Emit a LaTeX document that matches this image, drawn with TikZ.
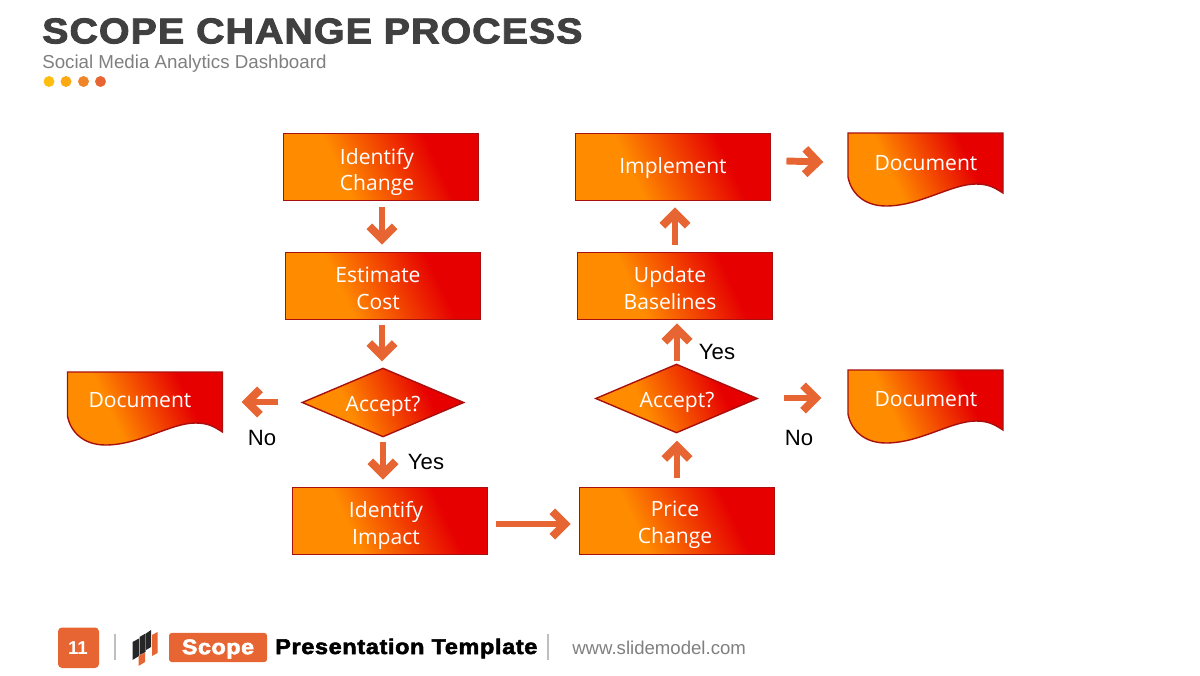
\documentclass[tikz,border=0pt]{standalone}
\usepackage{fontspec}
\usetikzlibrary{shapes.geometric,arrows.meta}
\setmainfont{Liberation Sans}
\newfontfamily\bodyfont{Open Sans}
\newfontfamily\heavyfont[FakeBold=2.6,FakeStretch=1.1,LetterSpace=3]{Liberation Sans Bold}
\definecolor{orng}{HTML}{FF8C00}
\definecolor{redd}{HTML}{E60000}
\definecolor{edge}{HTML}{A81010}
\definecolor{flowc}{HTML}{E66532}
\definecolor{titlec}{HTML}{404040}
\definecolor{subc}{HTML}{7F7F7F}
\definecolor{dotA}{HTML}{FDBE0F}
\definecolor{dotB}{HTML}{FDA914}
\definecolor{dotC}{HTML}{F08429}
\definecolor{dotD}{HTML}{E66532}
\pgfdeclarehorizontalshading{flowgrad}{100bp}{color(0bp)=(orng); color(37bp)=(orng); color(67bp)=(redd); color(100bp)=(redd)}
\tikzset{
  x=0.75pt,y=-0.75pt,
  fillgrad/.style={shade,shading=flowgrad,shading angle=25,draw=edge,line width=1.05pt},
  box/.style={fillgrad,rectangle,inner sep=0pt,minimum width=146.6pt,minimum height=50.6pt},
  decision/.style={fillgrad,diamond,inner sep=0pt,aspect=2.35,minimum width=121.5pt,minimum height=51.7pt},
  flowtext/.style={font=\bodyfont\fontsize{15.8}{20.2}\selectfont,text=white,align=center,inner sep=0pt},
  answer/.style={font=\fontsize{16.6}{18}\selectfont,text=black,inner sep=0pt},
  flow/.style={draw=flowc,line width=5.2pt,-{Straight Barb[length=9.5pt,width=19pt,line width=6pt]}},
  dot/.style={circle,inner sep=0pt,minimum size=8.2pt},
  sepline/.style={draw=black!25,line width=1pt}
}
\newcommand{\docshape}[2]{%
  \path[fillgrad,shift={(#1,#2)}] (0,0) -- (155,0) -- (155,60)
    .. controls (147,55) and (141,51) .. (128,51)
    .. controls (103,51) and (72,73) .. (38,73)
    .. controls (16,73) and (3,60) .. (0,44) -- cycle;}
\begin{document}
\begin{tikzpicture}
\useasboundingbox (0,0) rectangle (1200,675);
% header
\node[anchor=west,inner sep=0pt,text=titlec] (title) at (42,31) {\heavyfont\fontsize{26.8}{30}\selectfont SCOPE CHANGE PROCESS};
\node[anchor=west,inner sep=0pt,text=subc] (sub) at (42,63.5) {\fontsize{14.05}{16}\selectfont Social Media Analytics Dashboard};
\node[dot,fill=dotA] (d-a) at (49,81.5) {};
\node[dot,fill=dotB] (d-b) at (66,81.5) {};
\node[dot,fill=dotC] (d-c) at (83.5,81.5) {};
\node[dot,fill=dotD] (d-d) at (100.5,81.5) {};
% boxes
\node[box] (n1) at (381,167) {};
\node[box] (n2) at (383,286) {};
\node[box] (n3) at (390,521) {};
\node[box] (n4) at (677,521) {};
\node[box] (n5) at (675,286) {};
\node[box] (n6) at (673,167) {};
\node[decision] (dl) at (383,402.5) {};
\node[decision] (dr) at (676.5,398.5) {};
\docshape{848}{133}
\docshape{848}{370}
\docshape{67.5}{372}
% texts
\node[flowtext] (t1) at (377,172) {Identify\\Change};
\node[flowtext] (t2) at (378,288) {Estimate\\Cost};
\node[flowtext] (t3) at (386,525) {Identify\\Impact};
\node[flowtext] (t4) at (675,525) {Price\\Change};
\node[flowtext] (t5) at (670,288) {Update\\Baselines};
\node[flowtext] (t6) at (673,168) {Implement};
\node[flowtext] (tl) at (383,406) {Accept?};
\node[flowtext] (tr) at (677,402) {Accept?};
\node[flowtext] (d1) at (926,163) {Document};
\node[flowtext] (d2) at (926,399) {Document};
\node[flowtext] (d3) at (140,400) {Document};
% connectors
\draw[flow] ([shift={(1,6)}]n1.south) -- ([shift={(-1,-7)}]n2.north);
\draw[flow] ([shift={(-1,5)}]n2.south) -- ([shift={(-1,-6)}]dl.north);
\draw[flow] ([shift={(0,4)}]dl.south) -- ([shift={(-7,-7)}]n3.north);
\draw[flow] ([shift={(8,3)}]n3.east) -- ([shift={(-8,3)}]n4.west);
\draw[flow] ([shift={(0,-9)}]n4.north) -- ([shift={(0.5,7)}]dr.south);
\draw[flow] ([shift={(0.5,-2)}]dr.north) -- ([shift={(2,3)}]n5.south);
\draw[flow] ([shift={(0,-7)}]n5.north) -- ([shift={(2,6)}]n6.south);
\draw[flow] ([shift={(15,-6)}]n6.east) -- ([shift={(-51,-1)}]d1.west);
\draw[flow] ([shift={(26,-0.5)}]dr.east) -- ([shift={(-53,-1)}]d2.west);
\draw[flow] ([shift={(-23,-0.5)}]dl.west) -- ([shift={(50,2)}]d3.east);
% answers
\node[answer] (y1) at (426,462) {Yes};
\node[answer] (y2) at (717,352) {Yes};
\node[answer] (no1) at (262,438) {No};
\node[answer] (no2) at (799,438) {No};
% footer
\path[fill=flowc,rounded corners=3pt] (58,627.5) -- (99,627.5) -- (99,668) -- (58,668) -- cycle;
\node[inner sep=0pt,text=white] (pg) at (78,648) {\fontsize{14}{16}\selectfont\bfseries 11};
\draw[sepline] (115,634) -- (115,660);
\fill[black!85] (132.5,642) -- (139,638.5) -- (139,656) -- (132.5,660) -- cycle;
\fill[black!85] (139.5,637) -- (145.5,633.5) -- (145.5,652) -- (139.5,655) -- cycle;
\fill[black!85] (146,633.5) -- (151,630) -- (151,647) -- (146,650) -- cycle;
\fill[flowc] (138.5,656) -- (145,652.5) -- (145,662) -- (138.5,666) -- cycle;
\fill[flowc] (152,635) -- (157.5,632) -- (157.5,653) -- (152,656) -- cycle;
\node[fill=flowc,rounded corners=2pt,minimum width=73.5pt,minimum height=21.8pt,inner sep=0pt] (sc) at (218,647.5) {};
\node[inner sep=0pt,text=white] (sct) at (218,649) {\heavyfont\fontsize{15.8}{18}\selectfont Scope};
\node[anchor=west,inner sep=0pt,text=black] (pt) at (275,648.5) {\heavyfont\fontsize{16}{18}\selectfont Presentation Template};
\draw[sepline] (548,634) -- (548,660);
\node[anchor=west,inner sep=0pt,text=subc] (web) at (572,648) {\fontsize{13.95}{16}\selectfont www.slidemodel.com};
\end{tikzpicture}
\end{document}
